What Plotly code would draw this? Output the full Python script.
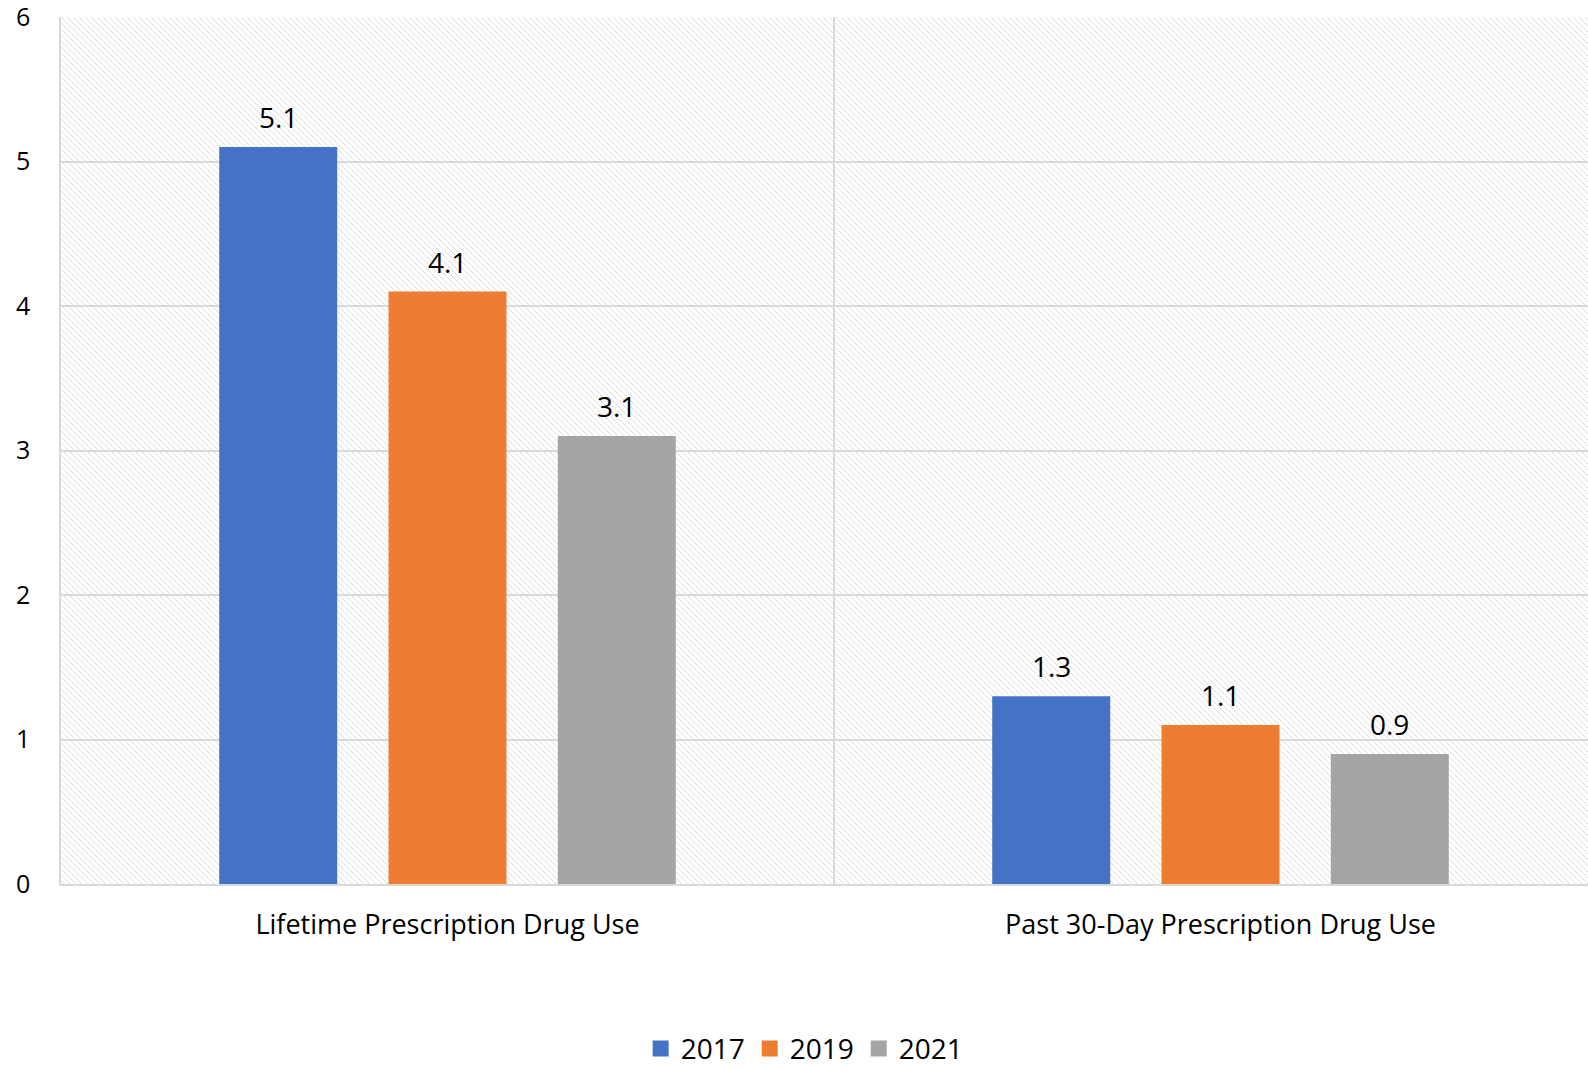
import base64
import plotly.graph_objects as go

# Survey measures and yearly percentages
categories = ["Lifetime Prescription Drug Use", "Past 30-Day Prescription Drug Use"]
years = ["2017", "2019", "2021"]
values_2017 = [5.1, 1.3]
values_2019 = [4.1, 1.1]
values_2021 = [3.1, 0.9]
series_values = [values_2017, values_2019, values_2021]
colors = ["#4472C4", "#ED7D31", "#A5A5A5"]
y_ticks = [0, 1, 2, 3, 4, 5, 6]

W, H = 1588, 1069
M_L, M_R, M_T, M_B = 61, 0, 17, 185
BARGAP = 0.343
BARGROUPGAP = 0.303
FONT = "'Open Sans', 'Noto Sans', sans-serif"
GRID = "#d9d9d9"

# Hatched plot-area background (downward diagonal stripes)
pw, ph = W - M_L - M_R, H - M_T - M_B
TILE = 6
dots = []
for yy in range(TILE):
    for xx in range(TILE):
        if (xx - yy) % TILE == 0:
            dots.append(f'<rect x="{xx}" y="{yy}" width="1" height="1" fill="#dcdcdc"/>')
svg = (
    f'<svg xmlns="http://www.w3.org/2000/svg" width="{pw}" height="{ph}" '
    f'viewBox="0 0 {pw} {ph}" shape-rendering="crispEdges">'
    f'<defs><pattern id="h" width="{TILE}" height="{TILE}" patternUnits="userSpaceOnUse">'
    + "".join(dots)
    + '</pattern></defs>'
    f'<rect width="{pw}" height="{ph}" fill="#ffffff"/>'
    f'<rect width="{pw}" height="{ph}" fill="url(#h)"/></svg>'
)
hatch_src = "data:image/svg+xml;base64," + base64.b64encode(svg.encode()).decode()

fig = go.Figure()
for year, vals, col in zip(years, series_values, colors):
    fig.add_trace(go.Bar(
        name=year, x=categories, y=vals, marker=dict(color=col, line=dict(width=0)),
        showlegend=False, hoverinfo="skip",
    ))
    # legend entry with a larger square swatch
    fig.add_trace(go.Scatter(
        name=year, x=[None], y=[None], mode="markers",
        marker=dict(symbol="square", size=18, color=col), showlegend=True,
    ))

# value labels above each bar
slot = (1 - BARGAP) / len(years)
annotations = []
for i, vals in enumerate(series_values):
    for ci, v in enumerate(vals):
        annotations.append(dict(
            x=ci + (i - (len(years) - 1) / 2) * slot, y=v, xref="x", yref="y",
            text=f"{v:.1f}", showarrow=False, yanchor="bottom", yshift=9,
            font=dict(family=FONT, size=28, color="#000000"),
        ))

fig.update_layout(
    width=W, height=H,
    margin=dict(l=M_L, r=M_R, t=M_T, b=M_B, pad=0, autoexpand=False),
    paper_bgcolor="#ffffff", plot_bgcolor="#ffffff",
    barmode="group", bargap=BARGAP, bargroupgap=BARGROUPGAP,
    font=dict(family=FONT, size=25, color="#000000"),
    annotations=annotations,
    images=[dict(
        source=hatch_src, xref="paper", yref="paper", x=0, y=1,
        sizex=1, sizey=1, xanchor="left", yanchor="top",
        sizing="stretch", layer="below",
    )],
    legend=dict(
        orientation="h", x=0.487, xanchor="center", y=-0.19, yanchor="middle",
        font=dict(family=FONT, size=28), itemsizing="trace",
        bgcolor="rgba(0,0,0,0)", traceorder="normal",
    ),
    showlegend=True,
)
fig.update_xaxes(
    type="category", categoryorder="array", categoryarray=categories,
    range=[-0.5, 1.4754], tickson="boundaries", ticks="",
    showgrid=True, gridcolor=GRID, gridwidth=1.5,
    showline=True, linecolor=GRID, linewidth=2,
    tickfont=dict(family=FONT, size=27), ticklabelstandoff=16,
    automargin=False, fixedrange=True,
)
fig.update_yaxes(
    range=[0, 6], tickvals=y_ticks, ticks="",
    showgrid=True, gridcolor=GRID, gridwidth=1.5, zeroline=False,
    showline=True, linecolor=GRID, linewidth=1.5,
    tickfont=dict(family=FONT, size=25), ticklabelstandoff=24,
    ticklabeloverflow="allow",
    automargin=False, fixedrange=True,
)

fig.write_html("out.html")
